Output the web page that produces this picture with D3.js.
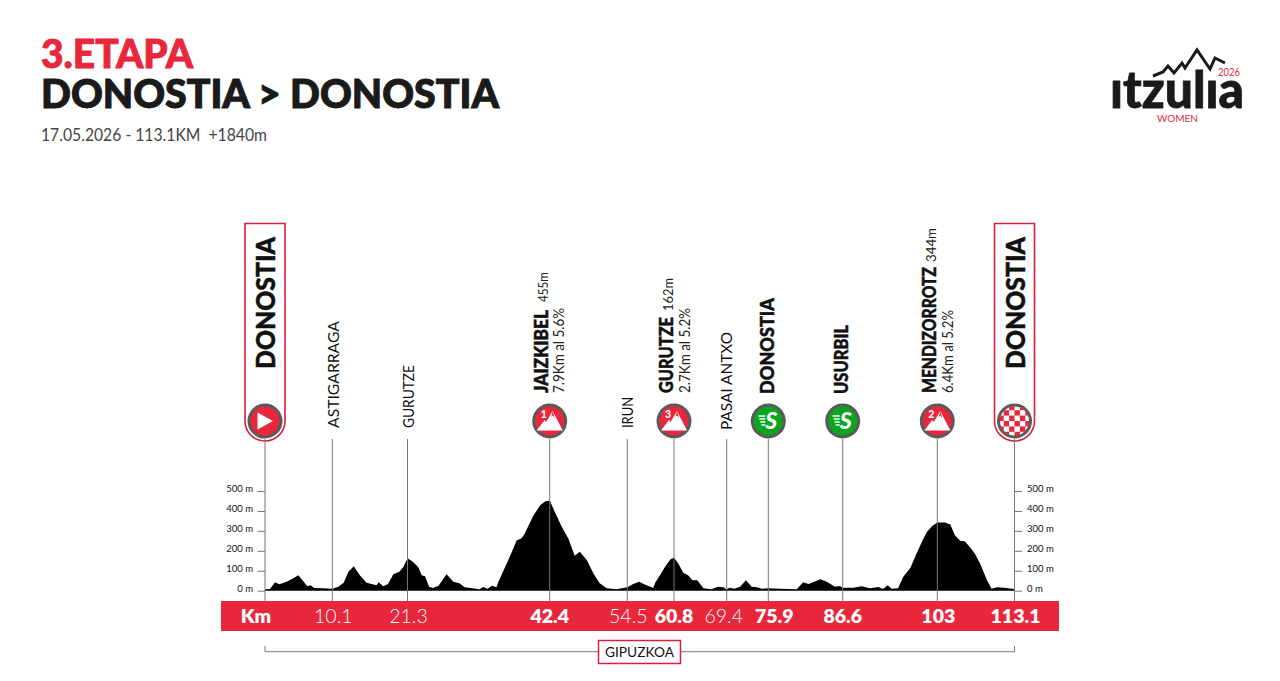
<!DOCTYPE html>
<html><head><meta charset="utf-8">
<script src="https://cdn.jsdelivr.net/npm/d3@7"></script>
<style>html,body{margin:0;padding:0;background:#fff}svg{display:block}text{font-family:Lato,"Open Sans",sans-serif}</style>
</head><body><svg id="c" width="1280" height="681"></svg>
<script>
// Data
const profileKm = [0,0.75,1.5,2.15,3.25,4.25,5,5.75,6.35,6.85,7.35,8.75,10.1,11,11.8,12.5,13.3,14.2,15.2,16.7,17,17.7,18.4,19.2,20.1,20.7,21.3,22.1,22.9,23.4,23.9,24.5,25.1,25.9,27.1,28.1,29,29.8,32,32.5,33.2,33.8,34.5,34.8,35.8,36.8,37.5,38.2,38.7,40,41,41.7,42.4,43.2,44.3,45.3,46.3,47.1,48.2,49.2,50.2,51.3,52.8,54.5,55.3,56.1,56.8,57.6,58,58.3,58.9,59.6,60.3,60.8,61.5,62.3,63.1,63.8,64.6,65.6,66.9,68,68.9,69.3,69.9,70.6,71.5,72.4,73.3,74.1,74.9,75.9,77.6,80,80.9,81.7,83.4,84.3,85.5,86.2,86.6,88.4,89.9,91.3,92.8,93.6,94.4,95.1,96.2,97.1,98.3,99.4,100.6,101.2,102.1,103,104,104.7,105.3,106,106.6,107.3,107.9,108.6,109.5,110.1,110.8,111.7,113.1];
const profileElev = [7,8,42,32,45,62,78,48,22,27,13,12,10,20,40,95,123,78,40,27,42,22,33,83,95,120,163,145,117,77,73,20,13,25,82,45,37,17,7,18,10,25,17,45,120,195,253,262,287,378,428,447,452,395,320,262,175,195,153,87,37,12,7,17,33,45,32,20,13,42,77,120,157,165,137,90,78,53,53,12,7,20,17,7,15,10,20,53,20,17,10,12,10,7,42,33,58,45,20,23,15,15,22,12,18,8,27,10,12,70,112,187,262,295,325,342,342,332,278,250,248,217,187,137,53,10,17,15,8];
const stopKm = [0,10.1,21.3,42.4,54.5,60.8,69.4,75.9,86.6,103,113.1];
const stopKmLabels = ["Km","10.1","21.3","42.4","54.5","60.8","69.4","75.9","86.6","103","113.1"];
const stopNames = ["DONOSTIA","ASTIGARRAGA","GURUTZE","JAIZKIBEL","IRUN","GURUTZE","PASAI ANTXO","DONOSTIA","USURBIL","MENDIZORROTZ","DONOSTIA"];
const stopTypes = ["start","plain","plain","climb","plain","climb","plain","sprint","sprint","climb","finish"];
const climbCats = {3:"1",5:"3",9:"2"};
const climbHeights = {3:"455m",5:"162m",9:"344m"};
const climbDetails = {3:"7.9Km al 5.6%",5:"2.7Km al 5.2%",9:"6.4Km al 5.2%"};
const elevTicks = [0,100,200,300,400,500];
const titleStage = "3.ETAPA";
const titleRoute = "DONOSTIA > DONOSTIA";
const subtitle = "17.05.2026 - 113.1KM\u00a0\u00a0+1840m";
const regionName = "GIPUZKOA";

const RED="#e8273c", DARK="#1a1a1a", GREY="#777", GREEN="#0aa51e";
const svg=d3.select("#c");
const x=d3.scaleLinear().domain(stopKm).range([265,332.3,407.5,549.7,627.3,674,726.7,768.3,842.7,937.3,1014.5]);
const y=d3.scaleLinear().domain([0,500]).range([590.7,491]);

function fit(g,str,x0,y0,len,size,weight,fill,bolden){
  const t=g.append("text").attr("x",x0).attr("y",y0).text(str)
    .attr("font-size",size).attr("font-weight",weight).attr("fill",fill||"#111")
    .attr("textLength",len).attr("lengthAdjust","spacingAndGlyphs");
  if(bolden)t.attr("stroke",fill||"#111").attr("stroke-width",bolden);
  return t;
}
function vfit(str,bx,yBottom,yTop,size,weight,fill,bolden){
  const g=svg.append("g").attr("transform",`translate(${bx},${yBottom}) rotate(-90)`);
  return fit(g,str,0,0,yBottom-yTop,size,weight,fill,bolden);
}
// header
fit(svg,titleStage,41,68,152,39,900,RED,0.9);
fit(svg,titleRoute,41,108,458,39,900,DARK,1);
fit(svg,subtitle,41,141,226,16.5,400,"#444");

// logo
const logo=svg.append("g");
logo.append("path").attr("d",d3.line()([[1153,76],[1163,72],[1168,66],[1174,73],[1182,63],[1185,68],[1197,50],[1210,69],[1215,58],[1225,63]]))
  .attr("fill","none").attr("stroke",DARK).attr("stroke-width",3).attr("stroke-linejoin","miter");
fit(logo,"\u0131tzul\u0131a",1110,108,134,52,900,DARK,0.8);
fit(logo,"2026",1218,76,22,10.5,400,RED);
fit(logo,"WOMEN",1157,122,41,9,400,RED);

// boxes at start and finish
[0,10].forEach(i=>{
  const cx=x(stopKm[i]);
  const l=cx-20,r=cx+20,t=223.5,b=441,ra=20;
  svg.append("path").attr("d",`M${l},${t}H${r}V${b-ra}A${ra},${ra} 0 0 1 ${l},${b-ra}Z`)
    .attr("fill","#fff").attr("stroke","#d8203a").attr("stroke-width",1.6);
});

// profile
svg.append("path").datum(d3.zip(profileKm,profileElev))
  .attr("d",d3.area().x(d=>x(d[0])).y0(y(0)).y1(d=>y(d[1])))
  .attr("fill","#000");

// stem lines
svg.append("g").selectAll("line").data(stopKm).join("line")
  .attr("x1",d=>x(d)).attr("x2",d=>x(d)).attr("y1",439).attr("y2",601)
  .attr("stroke",GREY).attr("stroke-width",1);

// elevation axes
function styleAxis(g){
  g.select(".domain").remove();
  g.selectAll(".tick line").attr("stroke",GREY);
  g.selectAll(".tick text").attr("font-size",9.5).attr("fill","#111").attr("font-family","Lato").attr("dy","0").attr("y",0)
    .attr("transform","translate(0,0.5)");
}
svg.append("g").attr("transform",`translate(${x(0)},0)`)
  .call(d3.axisLeft(y).tickValues(elevTicks).tickSize(7.5).tickPadding(4.5).tickFormat(d=>d+" m")).call(styleAxis);
svg.append("g").attr("transform",`translate(${x(113.1)},0)`)
  .call(d3.axisRight(y).tickValues(elevTicks).tickSize(7.5).tickPadding(5).tickFormat(d=>d+" m")).call(styleAxis);

// km band
svg.append("rect").attr("x",221).attr("y",601).attr("width",838).attr("height",30).attr("fill",RED);
const kmDx=[-9,1,1,0,1,0,-3,6,0,1,1];
const kmBold=[1,0,0,1,0,1,0,1,1,1,1];
stopKmLabels.forEach((s,i)=>{
  svg.append("text").attr("x",x(stopKm[i])+kmDx[i]).attr("y",622.7).attr("text-anchor","middle")
    .attr("font-size",19.5).attr("font-weight",kmBold[i]?800:300).attr("fill","#fff").text(s);
});

// region bracket
svg.append("path").attr("d",`M${x(0)},646V651.7H${x(113.1)}V646`).attr("fill","none").attr("stroke",GREY).attr("stroke-width",1);
svg.append("rect").attr("x",598.5).attr("y",640.5).attr("width",82).attr("height",23).attr("fill","#fff").attr("stroke","#d8203a").attr("stroke-width",1.5);
fit(svg,regionName,605,657,69,14,400,"#111");

// stop labels (baseline offset from stem, text bottom, text top)
const labelLayout=[
 [10,369,237,26,900],[6.7,428,321,16,400],[6.5,428,365,16,400],[-1.7,393,310,19.5,900],
 [5.7,428,397,16,400],[-1,393,317,19.5,900],[5.5,430,332,16,400],[5.7,394,298,19.5,900],
 [5.5,394,325,19.5,900],[-1.3,393,267,19.5,900],[10.5,369,237,26,900]];
stopNames.forEach((n,i)=>{
  const [dx,b,t,s,w]=labelLayout[i];
  vfit(n,x(stopKm[i])+dx,b,t,s,w,"#111",w===900?0.5:0);
});
const climbTop={3:[302,272,308],5:[311,278,308],9:[262,228,310]};
Object.keys(climbHeights).forEach(k=>{
  const i=+k, c=x(stopKm[i]), [b,t,t2]=climbTop[i];
  vfit(climbHeights[i],c-1.5,b,t,14,400,"#222");
  vfit(climbDetails[i],c+(i===3?14:15.5),393,t2,14.5,400,"#222");
});

// markers
const defs=svg.append("defs");
defs.append("clipPath").attr("id","cp").append("circle").attr("r",15);
stopTypes.forEach((type,i)=>{
  if(type==="plain")return;
  const g=svg.append("g").attr("transform",`translate(${x(stopKm[i])},421)`);
  const fill=type==="sprint"?GREEN:type==="finish"?"#fff":RED;
  g.append("circle").attr("r",16).attr("fill",fill).attr("stroke","#5a5a5a").attr("stroke-width",3);
  if(type==="start"){
    g.append("path").attr("d","M-7.5,-8.5L8,0L-7.5,8.5Z").attr("fill","#fff");
  } else if(type==="climb"){
    g.append("path").attr("d","M-13,9.5L-5,-1L-3.5,1L3,-10L13,9.5Z").attr("fill","#fff");
    g.append("path").attr("d","M3,-10L1.5,-4L3,-5.5L5,-3Z").attr("fill",RED);
    g.append("text").attr("x",-6).attr("y",-3.5).attr("text-anchor","middle").attr("font-size",10.5)
      .attr("font-weight",900).attr("fill","#fff").text(climbCats[i]);
  } else if(type==="sprint"){
    g.append("text").attr("x",3).attr("y",8).attr("text-anchor","middle").attr("font-size",23)
      .attr("font-weight",900).attr("font-style","italic").attr("fill","#fff").text("S");
    [-5,-2,1,4].forEach((v,j)=>g.append("line").attr("x1",-10+j).attr("x2",-3).attr("y1",v).attr("y2",v)
      .attr("stroke","#fff").attr("stroke-width",1.5));
  } else {
    const cg=g.append("g").attr("clip-path","url(#cp)");
    const sz=5.4;
    d3.range(-3,3).forEach(a=>d3.range(-3,3).forEach(b=>{
      if((a+b)%2===0)cg.append("rect").attr("x",a*sz).attr("y",b*sz).attr("width",sz).attr("height",sz).attr("fill",RED);
    }));
  }
});
</script></body></html>
